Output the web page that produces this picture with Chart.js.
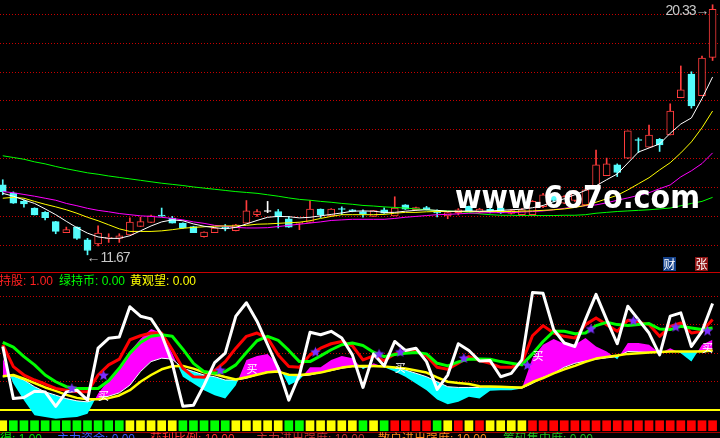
<!DOCTYPE html>
<html>
<head>
<meta charset="utf-8">
<title>K线与持股指标</title>
<script src="https://cdn.jsdelivr.net/npm/chart.js@4.4.1/dist/chart.umd.min.js"></script>
<style>
  html, body { margin:0; padding:0; background:#000; width:720px; height:438px; overflow:hidden; }
  #wrap { position:relative; width:720px; height:438px; overflow:hidden; background:#000; }
  #c { position:absolute; left:0; top:0; width:720px; height:438px; }
  .t { position:absolute; white-space:nowrap; font-family:"Liberation Sans","Noto Sans CJK SC",sans-serif; font-size:12px; line-height:14px; }
  .sep { position:absolute; left:0; width:720px; height:1px; }
  .px { font-size:14px; line-height:14px; color:#c8c8c8; }
  .num { letter-spacing:-1px; }
  .box { position:absolute; width:13px; height:14px; color:#fff; font-family:"Noto Sans CJK SC",sans-serif; font-size:12px; line-height:14px; text-align:center; }
  .sig { position:absolute; color:#fff; font-family:"Noto Sans CJK SC",sans-serif; font-size:11px; line-height:11px; }
  #wm { position:absolute; left:455px; top:181px; color:#fff; font-family:"DejaVu Sans",sans-serif; font-weight:bold; font-size:32px; line-height:32px; white-space:nowrap; transform-origin:0 0; }
</style>
</head>
<body>
<div id="wrap">
  <canvas id="c" width="720" height="438"></canvas>
  <div class="sep" style="top:272px;background:#c80000"></div>
  <div class="sep" style="top:432px;background:#a00000"></div>

  <div id="wm">www.6o7o.com</div>

  <div id="hi" class="t px"><span id="hiv" class="num"></span><span>→</span></div>
  <div id="lo" class="t px"><span>←</span><span id="lov" class="num"></span></div>

  <div class="box" style="left:663px;top:257px;background:#14418a">财</div>
  <div class="box" style="left:695px;top:257px;background:#8e1414">张</div>

  <div class="t" style="left:-1px;top:274px;color:#ff2020">持股: 1.00</div>
  <div class="t" style="left:59px;top:274px;color:#00ff00">绿持币: 0.00</div>
  <div class="t" style="left:130px;top:274px;color:#ffff00">黄观望: 0.00</div>

  <div class="t" style="left:0px;top:432px;color:#00e000">得: 1.00</div>
  <div class="t" style="left:57px;top:432px;color:#3c5aff">主力资金: 0.00</div>
  <div class="t" style="left:150px;top:432px;color:#ff3030">获利比例: 10.00</div>
  <div class="t" style="left:256px;top:432px;color:#c03030">主力进出强度: 10.00</div>
  <div class="t" style="left:378px;top:432px;color:#ff8c1a">散户进出强度: 10.00</div>
  <div class="t" style="left:503px;top:432px;color:#20c020">筹码集中度: 0.00</div>
</div>

<script>
// ---------------- DATA ----------------
const open = [14.09,13.81,13.52,13.29,13.14,12.82,12.44,12.63,12.19,12.05,
  12.24,12.24,12.36,12.65,12.79,13.03,12.94,12.77,12.65,12.30,
  12.44,12.61,12.51,12.77,13.06,13.17,13.17,12.92,12.76,12.79,
  13.25,13.02,13.26,13.23,13.17,13.00,13.23,13.02,13.40,13.23,
  13.31,13.14,13.02,13.13,13.35,13.15,13.25,13.30,13.10,13.06,
  13.06,13.34,13.70,13.46,13.55,13.40,14.03,14.41,14.79,15.02,
  15.66,15.40,15.67,15.82,17.11,17.93,17.18,18.51];
const high = [14.27,13.85,13.57,13.30,13.17,12.83,12.63,12.64,12.24,12.67,
  12.40,12.40,12.95,12.97,13.05,13.29,13.00,12.78,12.66,12.47,
  12.62,12.72,12.73,13.55,13.24,13.52,13.24,13.00,12.78,13.55,
  13.26,13.27,13.33,13.24,13.23,13.21,13.30,13.68,13.41,13.32,
  13.35,13.23,13.14,13.27,13.36,13.28,13.30,13.32,13.24,13.28,
  13.55,13.80,13.78,13.72,13.90,13.95,15.30,15.02,14.82,15.96,
  15.72,16.16,15.70,16.90,18.21,18.01,18.55,20.33];
const low = [13.75,13.45,13.32,13.05,12.88,12.40,12.44,12.20,11.67,11.98,
  12.10,12.10,12.36,12.65,12.79,13.00,12.77,12.58,12.44,12.28,
  12.44,12.50,12.50,12.77,13.00,13.13,12.60,12.62,12.54,12.79,
  12.96,13.02,13.06,13.16,12.97,13.00,13.10,13.02,13.24,13.22,
  13.22,12.98,12.92,13.05,13.18,13.12,13.12,13.10,13.08,13.04,
  13.04,13.30,13.50,13.44,13.52,13.38,14.03,14.41,14.38,15.00,
  15.21,15.40,15.25,15.82,17.11,16.75,17.18,18.40];
const close = [13.86,13.46,13.43,13.05,12.96,12.48,12.54,12.24,11.82,12.42,
  12.26,12.33,12.80,12.82,13.02,13.01,12.77,12.60,12.44,12.46,
  12.60,12.59,12.71,13.19,13.17,13.17,12.98,12.63,12.78,13.25,
  13.06,13.25,13.24,13.17,13.08,13.20,13.11,13.29,13.25,13.31,
  13.23,13.12,13.13,13.23,13.20,13.25,13.15,13.13,13.20,13.23,
  13.52,13.75,13.55,13.69,13.85,13.92,14.79,14.82,14.52,15.96,
  15.63,15.82,15.48,16.65,17.38,16.83,18.48,20.17];

const ma5 = [13.80,13.70,13.57,13.45,13.26,13.06,12.83,12.61,12.42,12.29,
  12.24,12.24,12.33,12.50,12.67,12.81,12.88,12.85,12.74,12.66,
  12.61,12.57,12.62,12.74,12.86,12.97,13.00,12.99,12.95,12.97,
  13.02,13.07,13.12,13.18,13.19,13.18,13.14,13.14,13.18,13.21,
  13.23,13.21,13.18,13.18,13.19,13.18,13.19,13.21,13.23,13.25,
  13.30,13.38,13.51,13.61,13.75,13.90,14.06,14.27,14.47,14.85,
  15.23,15.37,15.51,15.88,16.20,16.41,17.08,17.83];
const ma10 = [13.63,13.66,13.63,13.52,13.42,13.33,13.23,13.11,12.97,12.85,
  12.71,12.57,12.48,12.48,12.48,12.50,12.54,12.59,12.62,12.64,
  12.66,12.67,12.67,12.69,12.73,12.74,12.76,12.78,12.80,12.85,
  12.93,13.00,13.06,13.06,13.06,13.06,13.07,13.11,13.14,13.14,
  13.16,13.17,13.17,13.17,13.17,13.17,13.17,13.17,13.17,13.18,
  13.19,13.21,13.23,13.26,13.31,13.38,13.49,13.61,13.73,13.92,
  14.13,14.34,14.61,14.86,15.20,15.58,16.07,16.65];
const ma20 = [13.86,13.82,13.76,13.70,13.63,13.56,13.45,13.37,13.28,13.21,
  13.16,13.10,13.06,13.02,13.00,12.97,12.93,12.88,12.81,12.76,
  12.69,12.66,12.62,12.60,12.60,12.61,12.65,12.69,12.73,12.77,
  12.81,12.86,12.88,12.90,12.90,12.90,12.90,12.93,12.97,13.00,
  13.03,13.06,13.07,13.09,13.11,13.12,13.13,13.13,13.13,13.15,
  13.17,13.19,13.23,13.28,13.33,13.37,13.40,13.47,13.56,13.64,
  13.73,13.82,13.96,14.09,14.37,14.58,14.83,15.20];
const ma60 = [15.10,15.04,14.98,14.89,14.82,14.73,14.65,14.58,14.51,14.46,
  14.40,14.35,14.30,14.25,14.20,14.15,14.11,14.07,14.02,13.98,
  13.94,13.90,13.86,13.83,13.80,13.75,13.70,13.64,13.59,13.56,
  13.52,13.49,13.45,13.42,13.38,13.36,13.33,13.31,13.29,13.26,
  13.23,13.20,13.19,13.17,13.14,13.09,13.06,13.04,13.04,13.03,
  13.03,13.03,13.03,13.04,13.04,13.06,13.11,13.14,13.17,13.19,
  13.21,13.23,13.26,13.29,13.37,13.45,13.52,13.66];

const priceTicks = [12,13,14,15,16,17,18,19,20];
const indTicks = [0,20,40,60,80];

const lineWhite = [44.7,8.2,8.9,13.4,12.9,2.8,12.9,14.1,7.1,43.5,
  50.4,51.3,72.5,65.9,64.0,52.9,32.9,2.8,3.5,17.6,
  33.4,40.0,65.9,75.3,62.4,45.9,29.4,7.1,24.7,54.6,
  52.9,55.3,50.6,38.8,16.0,39.5,31.1,48.2,41.9,43.5,
  34.1,14.6,24.7,46.6,41.9,34.5,34.8,23.5,25.9,35.3,
  82.4,81.9,56.5,47.1,44.7,63.5,81.2,63.5,46.6,72.9,
  63.5,54.1,38.8,65.9,68.2,44.7,55.3,74.8];
const lineRed = [45.9,30.6,24.7,21.2,18.4,15.3,14.1,12.9,12.9,24.7,
  31.8,35.8,49.4,52.2,54.1,54.1,42.4,29.4,23.5,23.1,
  27.8,34.1,43.5,51.8,54.1,50.6,38.8,30.6,30.1,38.8,
  43.5,46.6,48.2,45.2,35.3,38.1,34.8,39.5,41.2,41.2,
  38.1,30.1,28.7,32.9,37.6,34.8,32.9,30.1,30.1,33.4,
  52.2,59.3,54.1,51.8,50.6,60.0,64.7,60.0,55.3,63.1,
  61.6,60.0,51.8,58.8,61.2,54.1,55.3,63.5];
const lineGreen = [47.5,44.2,37.6,31.8,24.7,20.0,16.5,15.3,15.3,15.3,
  20.7,29.4,40.0,47.5,51.8,52.9,51.8,42.8,32.9,27.1,
  25.9,27.1,31.8,40.5,48.7,51.8,48.9,41.9,34.1,34.1,
  38.1,42.4,45.9,47.1,45.4,40.7,37.6,39.1,40.0,40.5,
  39.5,32.9,31.1,33.9,35.8,36.0,35.8,34.1,32.9,31.8,
  39.5,48.2,55.3,55.3,53.6,54.1,59.3,61.6,60.0,59.3,
  60.0,60.7,56.9,56.5,58.8,57.6,56.5,57.6];
const lineYellow = [23.8,24.7,22.1,19.1,16.0,13.6,10.8,8.7,7.8,7.8,
  8.5,10.4,14.1,20.0,24.7,28.7,30.8,31.1,29.2,26.6,
  25.2,23.3,21.6,23.1,24.9,26.6,27.1,24.9,24.7,25.4,
  26.4,28.2,29.9,30.8,31.1,31.1,30.6,29.9,29.2,27.8,
  26.4,23.1,20.0,19.1,18.4,16.9,16.7,16.5,16.2,16.0,
  19.8,22.6,25.9,28.7,31.1,33.9,36.2,37.4,38.4,39.5,
  40.0,40.5,40.9,41.2,41.2,41.2,41.2,41.9];
const bandUpper = [36.5,18.8,7.1,-3.5,-4.7,-5.9,-5.2,-4.7,-2.4,11.8,
  21.2,29.4,41.2,49.9,56.9,54.1,40.0,23.5,18.8,14.1,
  10.6,8.2,17.6,35.3,38.1,39.5,31.8,17.6,21.2,30.1,
  30.1,35.3,38.1,36.5,28.7,32.9,30.1,27.1,23.5,18.8,
  14.1,7.5,4.2,5.9,9.4,8.2,13.6,14.1,14.1,15.3,
  36.5,45.9,49.9,46.6,45.9,50.6,44.7,41.2,35.8,47.1,
  47.1,45.9,40.0,43.5,40.0,34.1,45.9,49.4];
const bandLower = [23.5,24.0,21.2,16.5,12.9,10.6,8.2,6.6,5.9,8.2,
  9.9,12.2,17.6,27.1,34.1,36.5,35.8,29.4,27.1,24.7,
  23.5,21.2,21.2,22.4,24.7,27.1,27.5,24.7,24.0,24.7,
  26.4,27.8,29.4,30.6,30.1,30.6,30.6,30.1,28.2,25.9,
  23.5,20.0,16.5,16.0,16.0,16.0,16.5,16.2,16.0,15.5,
  18.8,23.1,25.9,30.1,32.9,34.4,35.8,36.7,37.6,41.2,
  40.9,40.5,40.9,41.2,41.2,41.2,41.4,41.6];

// Hold state per bar: G = 持币 (green), Y = 观望 (yellow), R = 持股 (red)
const holdState = ('Y' + 'GGGGGGGGGGG' + 'YYYYY' + 'GGGGG' + 'YYYYY' + 'GG' + 'YYYYY' +
  'G' + 'Y' + 'G' + 'RRRR' + 'G' + 'Y' + 'R' + 'Y' + 'R' + 'YYYY' + 'RRRRRRRRRRRRRRRRRR').split('');
const stateLow = -14.3, stateHigh = -7.3;

const starBar = [6, 9, 20, 29, 35, 37, 43, 49, 55, 59, 63, 66];
const starVal = [19.1, 28.2, 31.8, 44.5, 43.1, 44.5, 40.2, 35.3, 60.7, 66.4, 62.1, 59.3];
const buyBar = [9, 23, 37, 50, 66];
const buyVal = [14.1, 33.2, 33.9, 42.4, 48.0];
const buyText = '买';

// ---------------- STYLE ----------------
const UP = '#ff3c3c', DOWN = '#54fcfc', FLAT = '#ffffff';
const STATE_COLOR = { G: '#00ff00', Y: '#ffff00', R: '#ff0000' };
const GRID_RED = '#c80000';

const bars = open.map((_, i) => i);
function kind(i) { return close[i] > open[i] ? 'up' : (close[i] < open[i] ? 'down' : 'flat'); }
function candleColor(i) { const k = kind(i); return k === 'up' ? UP : (k === 'down' ? DOWN : FLAT); }

function makeStar() {
  const c = document.createElement('canvas');
  c.width = 22; c.height = 22;
  const g = c.getContext('2d');
  g.fillStyle = '#7b2fff';
  const cx = 16.5, cy = 16.5, R = 5.6, r = 2.4;
  g.beginPath();
  for (let k = 0; k < 10; k++) {
    const a = -Math.PI / 2 + k * Math.PI / 5;
    const rr = (k % 2) ? r : R;
    g.lineTo(cx + rr * Math.cos(a), cy + rr * Math.sin(a));
  }
  g.closePath(); g.fill();
  return c;
}

function xy(arr) { return arr.map((v, i) => ({ x: i, y: v })); }

const datasets = [
  { type: 'bar', label: 'state', yAxisID: 'yI', data: bars.map(i => ({ x: i, y: [stateLow, stateHigh] })),
    barThickness: 8, grouped: false, borderWidth: 0,
    backgroundColor: c => STATE_COLOR[holdState[c.dataIndex]], order: 40 },
  { type: 'line', label: 'bandUpper', yAxisID: 'yI', data: xy(bandUpper), borderWidth: 0, pointRadius: 0,
    borderColor: 'rgba(0,0,0,0)', tension: 0,
    fill: { target: '+1', above: '#ff00ff', below: '#00ffff' }, order: 38 },
  { type: 'line', label: 'bandLower', yAxisID: 'yI', data: xy(bandLower), borderWidth: 1, pointRadius: 0,
    borderColor: '#ffffff', tension: 0, fill: false, order: 37 },
  { type: 'line', label: 'yellow', yAxisID: 'yI', data: xy(lineYellow), borderWidth: 2.5, pointRadius: 0,
    borderColor: '#ffff00', tension: 0, fill: false, borderJoinStyle: 'round', order: 36 },
  { type: 'line', label: 'red', yAxisID: 'yI', data: xy(lineRed), borderWidth: 3, pointRadius: 0,
    borderColor: '#ff0000', tension: 0, fill: false, borderJoinStyle: 'round', order: 35 },
  { type: 'line', label: 'green', yAxisID: 'yI', data: xy(lineGreen), borderWidth: 3, pointRadius: 0,
    borderColor: '#00ff00', tension: 0, fill: false, borderJoinStyle: 'round', order: 34 },
  { type: 'line', label: 'white', yAxisID: 'yI', data: xy(lineWhite), borderWidth: 3, pointRadius: 0,
    borderColor: '#ffffff', tension: 0, fill: false, borderJoinStyle: 'round', order: 33 },
  { type: 'line', label: 'stars', yAxisID: 'yI', data: starBar.map((b, k) => ({ x: b, y: starVal[k] })),
    showLine: false, pointStyle: makeStar(), pointRadius: 5, order: 32 },

  { type: 'bar', label: 'wick', yAxisID: 'yP', data: bars.map(i => ({ x: i, y: [low[i], high[i]] })),
    barThickness: 1, grouped: false, borderWidth: 0,
    backgroundColor: c => candleColor(c.dataIndex), order: 20 },
  { type: 'bar', label: 'body', yAxisID: 'yP', data: bars.map(i => ({ x: i, y: [open[i], close[i]] })),
    barThickness: 7, grouped: false, minBarLength: 1, borderWidth: 1, borderSkipped: false,
    backgroundColor: c => kind(c.dataIndex) === 'up' ? '#000000' : candleColor(c.dataIndex),
    borderColor: c => candleColor(c.dataIndex), order: 19 },
  { type: 'line', label: 'MA60', yAxisID: 'yP', data: xy(ma60), borderWidth: 1, pointRadius: 0, borderColor: '#00ff00', tension: 0, fill: false, order: 18 },
  { type: 'line', label: 'MA20', yAxisID: 'yP', data: xy(ma20), borderWidth: 1, pointRadius: 0, borderColor: '#ff00ff', tension: 0, fill: false, order: 17 },
  { type: 'line', label: 'MA10', yAxisID: 'yP', data: xy(ma10), borderWidth: 1, pointRadius: 0, borderColor: '#ffff00', tension: 0, fill: false, order: 16 },
  { type: 'line', label: 'MA5', yAxisID: 'yP', data: xy(ma5), borderWidth: 1, pointRadius: 0, borderColor: '#ffffff', tension: 0, fill: false, order: 15 }
];

const zeroWidth = s => { s.width = 0; };

const chart = new Chart(document.getElementById('c'), {
  type: 'bar',
  data: { datasets },
  options: {
    responsive: false,
    animation: false,
    devicePixelRatio: 1,
    events: [],
    layout: { padding: 0, autoPadding: false },
    plugins: { legend: { display: false }, tooltip: { enabled: false } },
    scales: {
      x: { type: 'linear', display: false, min: -0.26, max: 67.7, offset: false, grid: { offset: false } },
      yP: {
        type: 'linear', position: 'left', min: 5.326, max: 20.495,
        afterBuildTicks: s => { s.ticks = priceTicks.map(v => ({ value: v })); },
        afterFit: zeroWidth,
        ticks: { display: false },
        grid: { drawTicks: false, color: GRID_RED, lineWidth: 1 },
        border: { display: false, dash: [1, 2] }
      },
      yI: {
        type: 'linear', position: 'left', min: -19.4, max: 287.3,
        afterBuildTicks: s => { s.ticks = indTicks.map(v => ({ value: v })); },
        afterFit: zeroWidth,
        ticks: { display: false },
        grid: {
          drawTicks: false,
          color: c => (c.tick && c.tick.value === 0) ? '#ffff00' : GRID_RED,
          lineWidth: c => (c.tick && c.tick.value === 0) ? 2 : 1
        },
        border: { display: false, dash: c => (c.tick && c.tick.value === 0) ? [] : [1, 2] }
      }
    }
  }
});

// ---------------- TEXT OVERLAYS placed through the chart scales ----------------
const X = chart.scales.x, YP = chart.scales.yP, YI = chart.scales.yI;
const wrap = document.getElementById('wrap');

const hiI = high.indexOf(Math.max(...high));
const loI = low.indexOf(Math.min(...low));
document.getElementById('hiv').textContent = high[hiI].toFixed(2);
document.getElementById('lov').textContent = low[loI].toFixed(2);
const hiEl = document.getElementById('hi');
hiEl.style.right = (720 - (X.getPixelForValue(hiI) - 3)) + 'px';
hiEl.style.top = (YP.getPixelForValue(high[hiI]) - 2) + 'px';
const loEl = document.getElementById('lo');
loEl.style.left = (X.getPixelForValue(loI) - 1) + 'px';
loEl.style.top = (YP.getPixelForValue(low[loI]) - 5) + 'px';

buyBar.forEach((b, k) => {
  const d = document.createElement('div');
  d.className = 'sig';
  d.textContent = buyText;
  d.style.left = X.getPixelForValue(b) + 'px';
  d.style.top = YI.getPixelForValue(buyVal[k]) + 'px';
  wrap.appendChild(d);
});

const wm = document.getElementById('wm');
const w = wm.getBoundingClientRect().width;
if (w > 0) wm.style.transform = 'scaleX(' + (245 / w) + ')';
</script>
</body>
</html>
